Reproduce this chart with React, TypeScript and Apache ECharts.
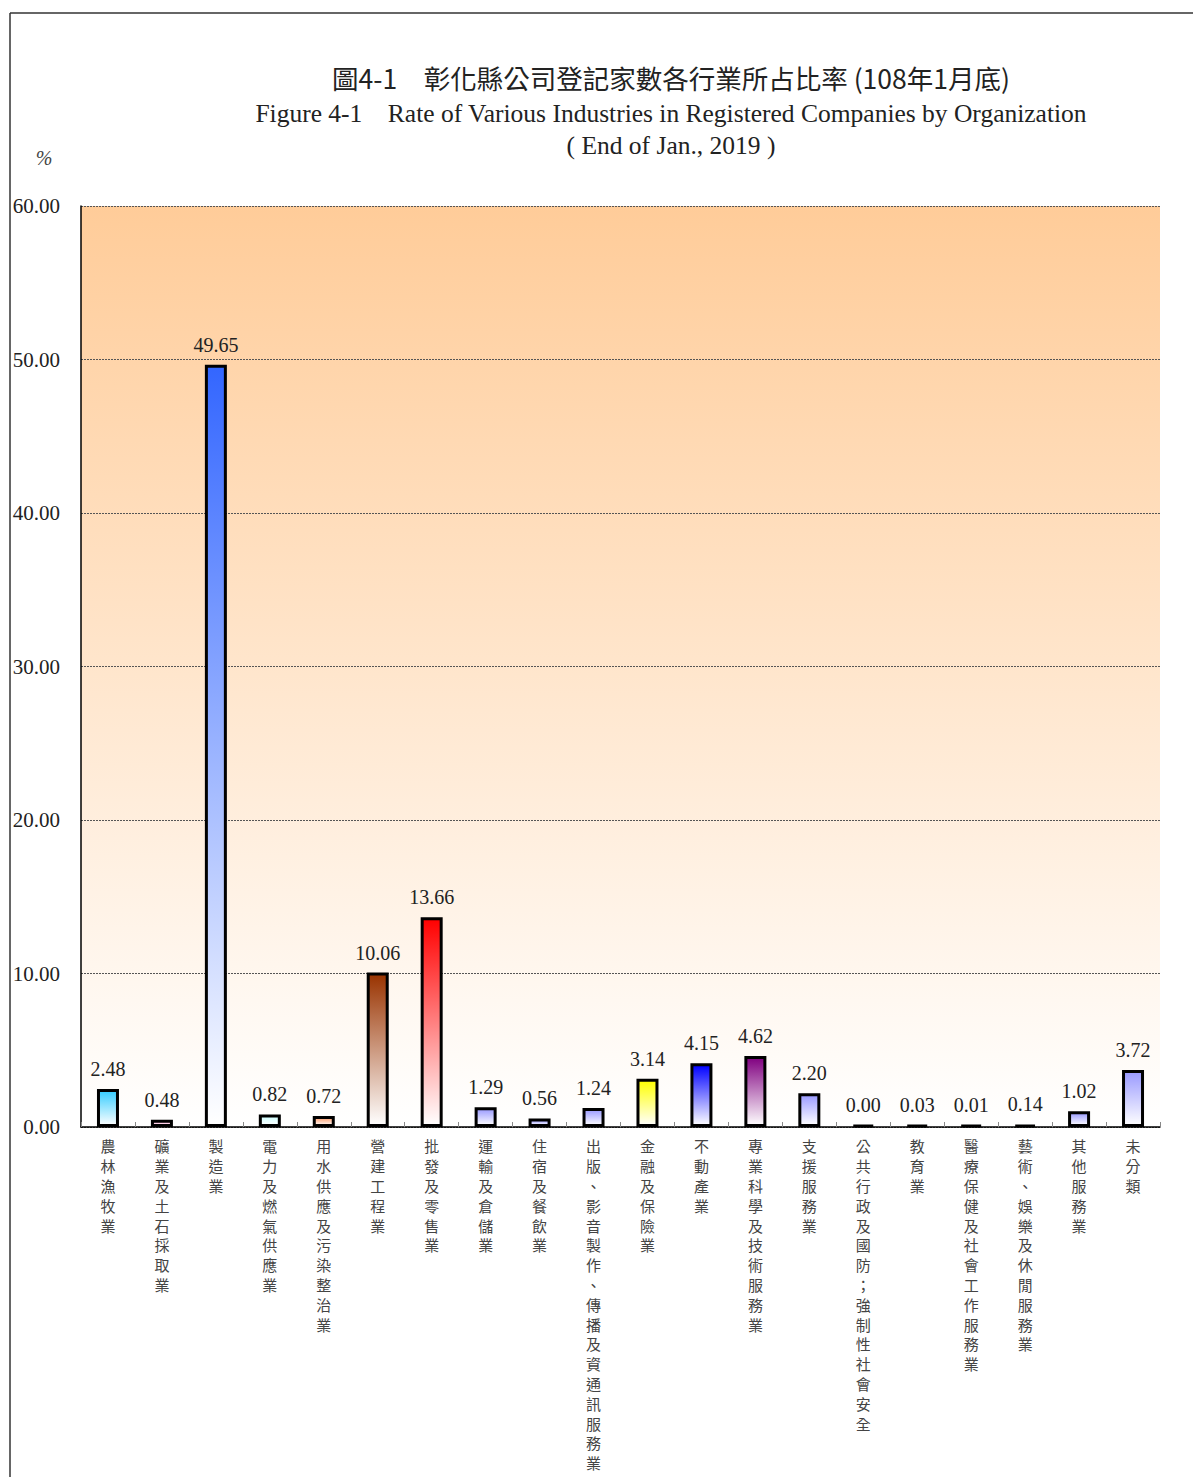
import React, { useEffect, useRef } from "react";
import * as echarts from "echarts";

const categories = [
  "農林漁牧業",
  "礦業及土石採取業",
  "製造業",
  "電力及燃氣供應業",
  "用水供應及污染整治業",
  "營建工程業",
  "批發及零售業",
  "運輸及倉儲業",
  "住宿及餐飲業",
  "出版、影音製作、傳播及資通訊服務業",
  "金融及保險業",
  "不動產業",
  "專業科學及技術服務業",
  "支援服務業",
  "公共行政及國防；強制性社會安全",
  "教育業",
  "醫療保健及社會工作服務業",
  "藝術、娛樂及休閒服務業",
  "其他服務業",
  "未分類",
];

const values = [2.48, 0.48, 49.65, 0.82, 0.72, 10.06, 13.66, 1.29, 0.56, 1.24, 3.14, 4.15, 4.62, 2.2, 0.0, 0.03, 0.01, 0.14, 1.02, 3.72];

const barColors = [
  "#33CCFF", "#FF99CC", "#3366FF", "#CCFFFF", "#FF9966", "#993300", "#FF0000", "#9999FF", "#9999FF", "#9999FF",
  "#FFFF00", "#0000FF", "#800080", "#9999FF", "#000000", "#000000", "#000000", "#000000", "#9999FF", "#9999FF",
];

const yTicks = [0, 10, 20, 30, 40, 50, 60];

const titleZh = "圖4-1　彰化縣公司登記家數各行業所占比率 (108年1月底)";
const titleEn = "Figure 4-1    Rate of Various Industries in Registered Companies by Organization";
const titleEn2 = "( End of Jan., 2019 )";

export default function App() {
  const ref = useRef<HTMLDivElement>(null);
  useEffect(() => {
    if (!ref.current) return;
    const chart = echarts.init(ref.current, undefined, { renderer: "svg" });
    const serif = "Liberation Serif";
    const cjk = "Noto Sans CJK TC";
    chart.setOption({
      animation: false,
      backgroundColor: "#ffffff",
      grid: {
        left: 81,
        top: 206,
        right: 33,
        bottom: 350,
        outerBoundsMode: "none",
        containLabel: false,
        show: true,
        borderWidth: 0,
        backgroundColor: new echarts.graphic.LinearGradient(0, 0, 0, 1, [
          { offset: 0, color: "#FFCC99" },
          { offset: 1, color: "#FFFFFF" },
        ]),
      },
      xAxis: {
        type: "category",
        data: categories,
        axisLine: { lineStyle: { color: "#000", width: 1.5 } },
        axisTick: { show: true, inside: true, length: 5, lineStyle: { color: "#888" } },
        axisLabel: {
          interval: 0,
          margin: 9,
          color: "#444",
          fontFamily: cjk,
          fontSize: 15,
          lineHeight: 19.8,
          verticalAlign: "top",
          formatter: (v: string) => v.split("").join("\n"),
        },
      },
      yAxis: {
        type: "value",
        min: 0,
        max: 60,
        interval: 10,
        axisLine: { show: true, lineStyle: { color: "#000", width: 1.5 } },
        axisTick: { show: false },
        splitLine: { lineStyle: { color: "#555", type: [2, 1], width: 1 } },
        axisLabel: {
          margin: 21,
          color: "#222",
          fontFamily: serif,
          fontSize: 21,
          formatter: (v: number) => (yTicks.includes(v) ? v.toFixed(2) : ""),
        },
      },
      series: [
        {
          type: "bar",
          barWidth: 22,
          barMinHeight: 2,
          data: values.map((v, i) => ({
            value: v,
            itemStyle: {
              color: new echarts.graphic.LinearGradient(0, 0, 0, 1, [
                { offset: 0, color: barColors[i] },
                { offset: 1, color: "#FFFFFF" },
              ]),
              borderColor: "#000",
              borderWidth: 3,
            },
          })),
          label: {
            show: true,
            position: "top",
            distance: 10,
            color: "#222",
            fontFamily: serif,
            fontSize: 20,
            formatter: (p: any) => Number(p.value).toFixed(2),
          },
        },
      ],
      graphic: [
        { type: "line", shape: { x1: 10, y1: 13, x2: 1193, y2: 13 }, style: { stroke: "#333", lineWidth: 1.5 } },
        { type: "line", shape: { x1: 10, y1: 13, x2: 10, y2: 1477 }, style: { stroke: "#333", lineWidth: 1.5 } },
        {
          type: "text",
          x: 671,
          y: 77,
          style: { text: titleZh, fontFamily: cjk, fontSize: 26.5, fill: "#222", align: "center", verticalAlign: "middle" },
        },
        {
          type: "text",
          x: 671,
          y: 113,
          style: { text: titleEn, fontFamily: serif, fontSize: 25.5, fill: "#222", align: "center", verticalAlign: "middle" },
        },
        {
          type: "text",
          x: 671,
          y: 145,
          style: { text: titleEn2, fontFamily: serif, fontSize: 25.5, fill: "#222", align: "center", verticalAlign: "middle" },
        },
        {
          type: "text",
          x: 44,
          y: 158,
          style: { text: "%", fontFamily: serif, fontStyle: "italic", fontSize: 20, fill: "#444", align: "center", verticalAlign: "middle" },
        },
      ],
    });
    return () => chart.dispose();
  }, []);
  return <div ref={ref} style={{ position: "absolute", left: 0, top: 0, width: 1193, height: 1477 }} />;
}
